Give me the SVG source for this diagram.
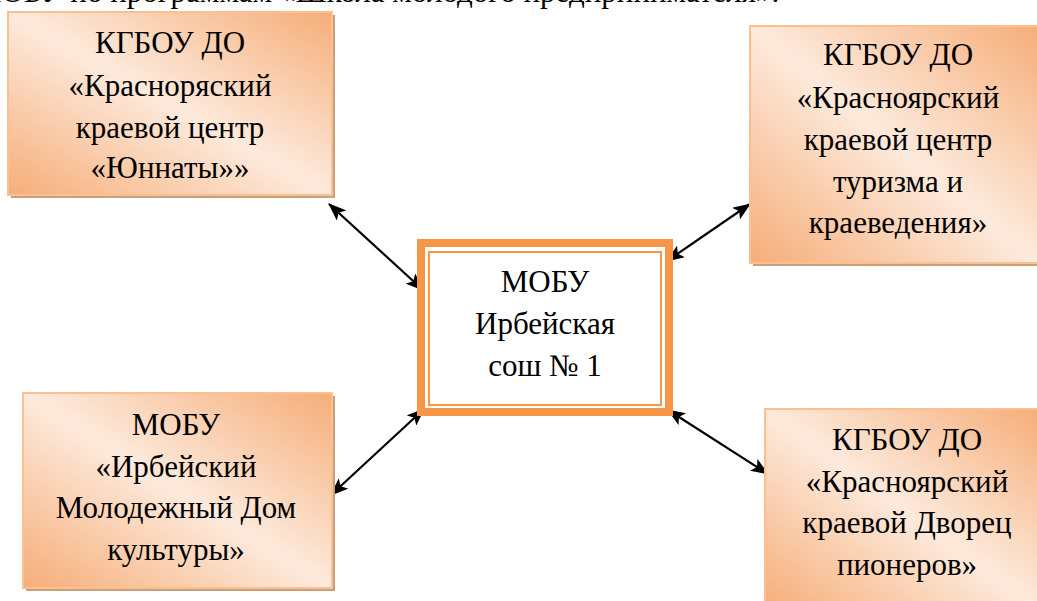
<svg xmlns="http://www.w3.org/2000/svg" width="1037" height="601" viewBox="0 0 1037 601">
<defs>
<linearGradient id="g" x1="1" y1="0" x2="0" y2="1">
<stop offset="0" stop-color="#f6ad78"/>
<stop offset="0.5" stop-color="#fdeadc"/>
<stop offset="1" stop-color="#f6ad78"/>
</linearGradient>
<marker id="ah" viewBox="0 0 18 14" refX="17" refY="7" markerWidth="18" markerHeight="14" markerUnits="userSpaceOnUse" orient="auto-start-reverse">
<path d="M0,0 L18,7 L0,14 L4,7 z" fill="#000"/>
</marker>
<style>
.t{font-family:"Liberation Serif","Times New Roman",serif;font-size:31px;fill:#000;text-anchor:middle}
.sh{fill:#c9a07e}
.bx{fill:url(#g);stroke:#fac090;stroke-width:2}
.c{stroke:#000;stroke-width:2.2;fill:none;marker-start:url(#ah);marker-end:url(#ah)}
</style>
</defs>
<rect width="1037" height="601" fill="#fff"/>
<text x="-26" y="1.5" style="font-family:'Liberation Serif','Times New Roman',serif;font-size:31px">МОБУ по программам «Школа молодого предпринимателя».</text>

<g id="connectors">
<line class="c" x1="329" y1="204" x2="423" y2="290"/>
<line class="c" x1="750" y1="204" x2="667" y2="261"/>
<line class="c" x1="424" y1="409" x2="331" y2="495"/>
<line class="c" x1="668" y1="410" x2="768" y2="474"/>
</g>

<g id="node-yunnaty">
<rect class="sh" x="11" y="15" width="324" height="183"/>
<rect class="bx" x="8" y="12" width="324" height="183"/>
<text class="t" x="170" y="53">КГБОУ ДО</text>
<text class="t" x="170" y="96">«Красноряский</text>
<text class="t" x="170" y="138">краевой центр</text>
<text class="t" x="170" y="178">«Юннаты»»</text>
</g>

<g id="node-turizm">
<rect class="sh" x="753" y="29" width="290" height="237"/>
<rect class="bx" x="750" y="26" width="290" height="237"/>
<text class="t" x="898" y="65">КГБОУ ДО</text>
<text class="t" x="898" y="108">«Красноярский</text>
<text class="t" x="898" y="150">краевой центр</text>
<text class="t" x="898" y="192">туризма и</text>
<text class="t" x="898" y="233">краеведения»</text>
</g>

<g id="node-center">
<rect x="421" y="243" width="248" height="169" fill="#fff" stroke="#f79646" stroke-width="8"/>
<rect x="429" y="252" width="232" height="153" fill="none" stroke="#f79646" stroke-width="2"/>
<text class="t" x="545" y="292">МОБУ</text>
<text class="t" x="545" y="334">Ирбейская</text>
<text class="t" x="545" y="376">сош № 1</text>
</g>

<g id="node-mdk">
<rect class="sh" x="26" y="396" width="309" height="195"/>
<rect class="bx" x="23" y="393" width="309" height="195"/>
<text class="t" x="176" y="435">МОБУ</text>
<text class="t" x="176" y="477">«Ирбейский</text>
<text class="t" x="176" y="518">Молодежный Дом</text>
<text class="t" x="176" y="560">культуры»</text>
</g>

<g id="node-dvorets">
<rect class="sh" x="768" y="412" width="275" height="200"/>
<rect class="bx" x="765" y="409" width="275" height="200"/>
<text class="t" x="907" y="450">КГБОУ ДО</text>
<text class="t" x="907" y="492">«Красноярский</text>
<text class="t" x="907" y="533">краевой Дворец</text>
<text class="t" x="907" y="575">пионеров»</text>
</g>
</svg>
